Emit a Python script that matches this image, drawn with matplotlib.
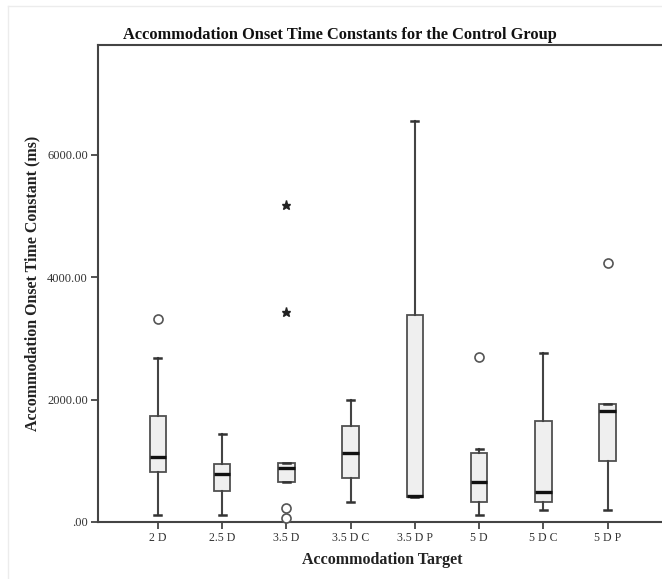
import matplotlib
matplotlib.use("Agg")
import matplotlib.pyplot as plt
from matplotlib.lines import Line2D

# Accommodation targets and per-target box summaries (ms)
targets = ["2 D", "2.5 D", "3.5 D", "3.5 D C", "3.5 D P", "5 D", "5 D C", "5 D P"]
whisker_low = [118, 118, 657, 324, 405, 118, 188, 200]
q1 = [815, 510, 657, 723, 405, 319, 319, 1001]
median = [1060, 777, 880, 1132, 420, 651, 494, 1807]
q3 = [1725, 940, 957, 1562, 3388, 1125, 1655, 1921]
whisker_high = [2674, 1442, 957, 1998, 6554, 1197, 2767, 1921]
# outliers (circles) and extreme values (stars)
outliers = [[3311], [], [226, 60], [], [], [2695], [], [4227]]
extremes = [[], [], [5170, 3426], [], [], [], [], []]

ytick_values = [0, 2000, 4000, 6000]
ytick_labels = [".00", "2000.00", "4000.00", "6000.00"]

serif = ["Liberation Serif", "DejaVu Serif"]

fig = plt.figure(figsize=(6.62, 5.79), dpi=100)
fig.patch.set_facecolor("white")

# faint outer frame
fig.add_artist(Line2D([8 / 662, 8 / 662], [0, 1 - 6 / 579], transform=fig.transFigure,
                      color="#ececec", lw=1))
fig.add_artist(Line2D([8 / 662, 1], [1 - 6 / 579, 1 - 6 / 579], transform=fig.transFigure,
                      color="#ececec", lw=1))

ax = fig.add_axes([97.5 / 662, 1 - 522 / 579, 570.5 / 662, 477 / 579])

stats = []
for i, name in enumerate(targets):
    stats.append(dict(label=name, whislo=whisker_low[i], q1=q1[i], med=median[i],
                      q3=q3[i], whishi=whisker_high[i], fliers=[]))

positions = list(range(len(targets)))
ax.bxp(stats, positions=positions, widths=0.26, patch_artist=True, showfliers=False,
       capwidths=0.11,
       boxprops=dict(facecolor="#efefef", edgecolor="#505050", linewidth=1.3),
       medianprops=dict(color="#111111", linewidth=2.4),
       whiskerprops=dict(color="#444444", linewidth=1.5),
       capprops=dict(color="#333333", linewidth=1.8))

for i in positions:
    if outliers[i]:
        ax.plot([i] * len(outliers[i]), outliers[i], linestyle="none", marker="o",
                markersize=6.5, markerfacecolor="white", markeredgecolor="#555555",
                markeredgewidth=1.2, clip_on=False, zorder=5)
    if extremes[i]:
        ax.plot([i] * len(extremes[i]), extremes[i], linestyle="none", marker="*",
                markersize=6.5, color="#222222", clip_on=False, zorder=5)

ax.set_xlim(-0.94, len(targets) - 1 + 0.94)
ax.set_ylim(0, 7790)
ax.set_yticks(ytick_values)
ax.set_yticklabels(ytick_labels, fontfamily=serif, fontsize=9, color="#333333")
ax.set_xticks(positions)
ax.set_xticklabels(targets, fontfamily=serif, fontsize=8.5, color="#333333")

for side in ["left", "bottom", "top", "right"]:
    ax.spines[side].set_color("#444444")
    ax.spines[side].set_linewidth(1.5)
ax.tick_params(axis="both", direction="out", length=5, width=1.3, color="#444444", pad=2)

ax.set_ylabel("Accommodation Onset Time Constant (ms)", fontfamily=serif, fontsize=11.5,
              fontweight="bold", color="#222222", labelpad=5)
ax.set_xlabel("Accommodation Target", fontfamily=serif, fontsize=11.5,
              fontweight="bold", color="#222222", labelpad=6)
fig.text(340 / 662, 1 - 35 / 579, "Accommodation Onset Time Constants for the Control Group",
         ha="center", va="center", fontfamily=serif, fontsize=11.8, fontweight="bold",
         color="#111111")

fig.savefig("out.png", dpi=100)
